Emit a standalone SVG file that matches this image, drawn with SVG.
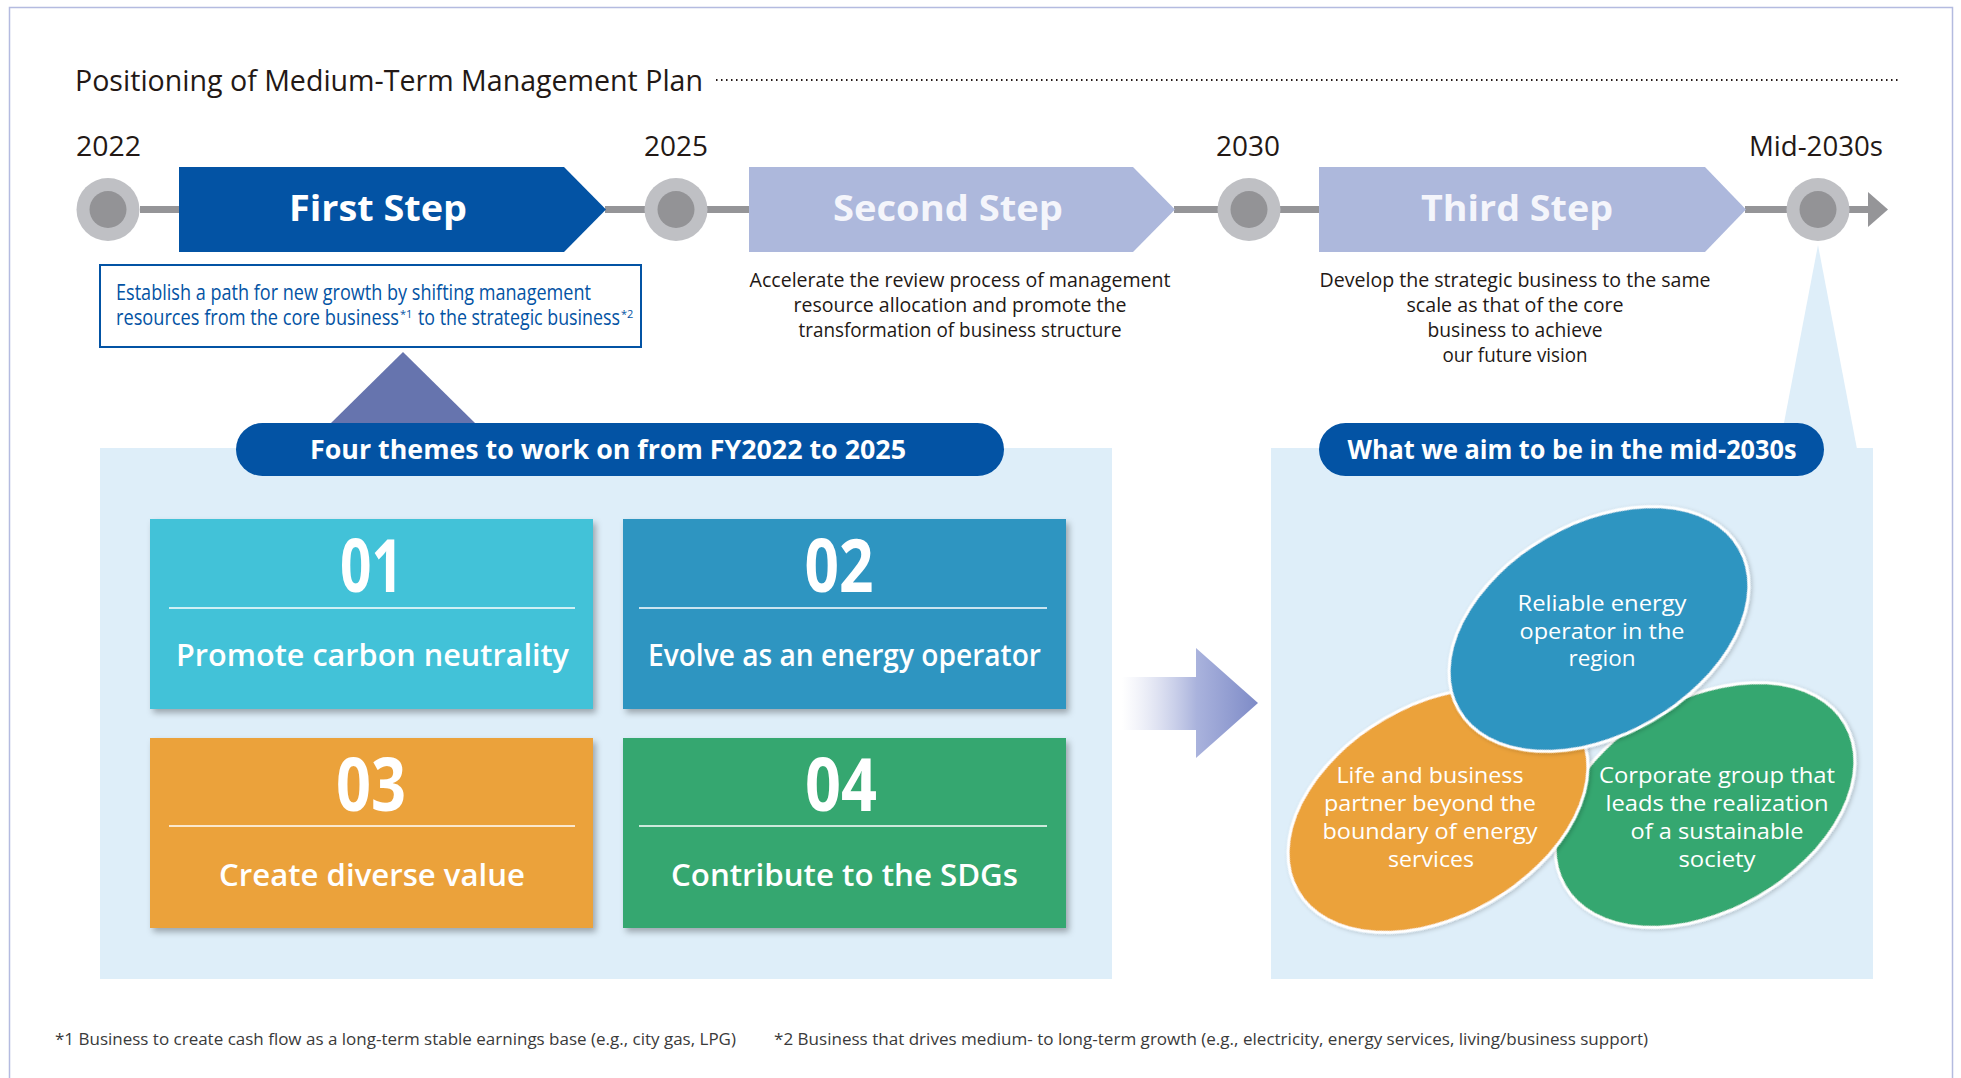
<svg xmlns="http://www.w3.org/2000/svg" width="1961" height="1078" viewBox="0 0 1961 1078">
<style>
text{font-family:"Open Sans","Noto Sans","Liberation Sans",sans-serif}
.dark{fill:#231815}
.yr{font-size:27px;fill:#231815}
.step{font-size:35px;font-weight:700;text-anchor:middle}
.desc{font-size:20px;fill:#231815;text-anchor:middle}
.bl{font-size:21px;fill:#0353a4}
.sup{font-size:11px;fill:#0353a4}
.pilltxt{font-size:27px;font-weight:700;fill:#fff;text-anchor:middle}
.num{font-size:74px;font-weight:700;fill:#fff;text-anchor:middle}
.lbl{font-size:30px;font-weight:600;fill:#fff;text-anchor:middle}
.ell{font-size:22px;fill:#fff;text-anchor:middle}
.foot{font-size:15.5px;fill:#3a3a3a}
.bar{fill:#959598}
.outer{fill:#bfc0c4}
.inner{fill:#939396}
.panel{fill:#deeef9}
.pill{fill:#0353a4}
.div{stroke:#fff;stroke-width:1.6}
.ellshape{stroke:#fff;stroke-width:3}
</style>
<defs>
<filter id="sh" x="-10%" y="-10%" width="125%" height="130%">
<feDropShadow dx="3" dy="4" stdDeviation="3" flood-color="#000" flood-opacity="0.3"/>
</filter>
<filter id="esh" x="-10%" y="-10%" width="125%" height="130%">
<feDropShadow dx="1" dy="2" stdDeviation="2" flood-color="#000" flood-opacity="0.2"/>
</filter>
<linearGradient id="shaft" x1="0" y1="0" x2="1" y2="0">
<stop offset="0" stop-color="#ffffff" stop-opacity="0.6"/>
<stop offset="1" stop-color="#a9b2dc"/>
</linearGradient>
<linearGradient id="head" gradientUnits="userSpaceOnUse" x1="1196" y1="0" x2="1258" y2="0">
<stop offset="0" stop-color="#aab3dd"/>
<stop offset="1" stop-color="#7e8bc7"/>
</linearGradient>
</defs>

<rect x="9.5" y="7.5" width="1943" height="1090" fill="#fff" stroke="#b4bbe0" stroke-width="1.5"/>

<g id="title">
<text x="75" y="91" font-size="29" class="dark" textLength="628" lengthAdjust="spacingAndGlyphs">Positioning of Medium-Term Management Plan</text>
<line x1="716" y1="80" x2="1900" y2="80" stroke="#231815" stroke-width="2" stroke-dasharray="1.5 3.5"/>
</g>

<g id="years">
<text x="76" y="156" class="yr" textLength="65" lengthAdjust="spacingAndGlyphs">2022</text>
<text x="644" y="156" class="yr" textLength="64" lengthAdjust="spacingAndGlyphs">2025</text>
<text x="1216" y="156" class="yr" textLength="64" lengthAdjust="spacingAndGlyphs">2030</text>
<text x="1749" y="156" class="yr" textLength="134" lengthAdjust="spacingAndGlyphs">Mid-2030s</text>
</g>

<g id="callouts">
<polygon points="1818,245 1779,449 1857,449" fill="#deeef9"/>
<polygon points="403,352 330,424 476,424" fill="#6674ae"/>
</g>

<g id="connectors">
<rect class="bar" x="140" y="206" width="40" height="7"/>
<rect class="bar" x="605" y="206" width="42" height="7"/>
<rect class="bar" x="706" y="206" width="44" height="7"/>
<rect class="bar" x="1174" y="206" width="45" height="7"/>
<rect class="bar" x="1279" y="206" width="41" height="7"/>
<rect class="bar" x="1745" y="206" width="43" height="7"/>
<rect class="bar" x="1848" y="206" width="21" height="7"/>
<polygon class="bar" points="1868,192 1888,209.5 1868,227"/>
<g id="big-arrow">
<rect x="1122" y="677" width="75" height="53" fill="url(#shaft)"/>
<polygon points="1196,648 1258,703 1196,758" fill="url(#head)"/>
</g>
</g>

<g id="milestone-2022"><circle class="outer" cx="108" cy="209.5" r="31.5"/><circle class="inner" cx="108" cy="209.5" r="18.5"/></g>
<g id="milestone-2025"><circle class="outer" cx="676" cy="209.5" r="31.5"/><circle class="inner" cx="676" cy="209.5" r="18.5"/></g>
<g id="milestone-2030"><circle class="outer" cx="1249" cy="209.5" r="31.5"/><circle class="inner" cx="1249" cy="209.5" r="18.5"/></g>
<g id="milestone-mid2030s"><circle class="outer" cx="1818" cy="209.5" r="31.5"/><circle class="inner" cx="1818" cy="209.5" r="18.5"/></g>

<g id="first-step">
<polygon points="179,167 564,167 606,209.5 564,252 179,252" fill="#0353a4"/>
<text x="378" y="221" class="step" fill="#fff" textLength="178" lengthAdjust="spacingAndGlyphs">First Step</text>
</g>
<g id="second-step">
<polygon points="749,167 1133,167 1175,209.5 1133,252 749,252" fill="#adb8dc"/>
<text x="948" y="221" class="step" fill="#f4f5fb" textLength="230" lengthAdjust="spacingAndGlyphs">Second Step</text>
</g>
<g id="third-step">
<polygon points="1319,167 1705,167 1746,209.5 1705,252 1319,252" fill="#adb8dc"/>
<text x="1517" y="221" class="step" fill="#f4f5fb" textLength="192" lengthAdjust="spacingAndGlyphs">Third Step</text>
</g>

<g id="first-desc">
<rect x="100" y="265" width="541" height="82" fill="#fff" stroke="#0353a4" stroke-width="2"/>
<text x="116" y="300" class="bl" textLength="475" lengthAdjust="spacingAndGlyphs">Establish a path for new growth by shifting management</text>
<text x="116" y="325" class="bl" textLength="283" lengthAdjust="spacingAndGlyphs">resources from the core business</text>
<text x="400" y="318" class="sup">*1</text>
<text x="418" y="325" class="bl" textLength="202" lengthAdjust="spacingAndGlyphs">to the strategic business</text>
<text x="621" y="318" class="sup">*2</text>
</g>

<g id="second-desc">
<text x="960" y="287" class="desc" textLength="421" lengthAdjust="spacingAndGlyphs">Accelerate the review process of management</text>
<text x="960" y="312" class="desc" textLength="333" lengthAdjust="spacingAndGlyphs">resource allocation and promote the</text>
<text x="960" y="337" class="desc" textLength="323" lengthAdjust="spacingAndGlyphs">transformation of business structure</text>
</g>

<g id="third-desc">
<text x="1515" y="287" class="desc" textLength="391" lengthAdjust="spacingAndGlyphs">Develop the strategic business to the same</text>
<text x="1515" y="312" class="desc" textLength="217" lengthAdjust="spacingAndGlyphs">scale as that of the core</text>
<text x="1515" y="337" class="desc" textLength="175" lengthAdjust="spacingAndGlyphs">business to achieve</text>
<text x="1515" y="362" class="desc" textLength="145" lengthAdjust="spacingAndGlyphs">our future vision</text>
</g>

<g id="themes-panel">
<rect class="panel" x="100" y="448" width="1012" height="531"/>
<rect class="pill" x="236" y="423" width="768" height="53" rx="26.5"/>
<text x="608" y="459" class="pilltxt" textLength="596" lengthAdjust="spacingAndGlyphs">Four themes to work on from FY2022 to 2025</text>
</g>

<g id="theme-01">
<rect x="150" y="519" width="443" height="190" fill="#42c2d8" filter="url(#sh)"/>
<text x="371.5" y="592" class="num" textLength="63" lengthAdjust="spacingAndGlyphs">01</text>
<line class="div" x1="169" y1="608" x2="575" y2="608"/>
<text x="372.5" y="666" class="lbl" textLength="393" lengthAdjust="spacingAndGlyphs">Promote carbon neutrality</text>
</g>
<g id="theme-02">
<rect x="623" y="519" width="443" height="190" fill="#2e95c1" filter="url(#sh)"/>
<text x="839" y="592" class="num" textLength="69" lengthAdjust="spacingAndGlyphs">02</text>
<line class="div" x1="639" y1="608" x2="1047" y2="608"/>
<text x="844.5" y="666" class="lbl" textLength="393" lengthAdjust="spacingAndGlyphs">Evolve as an energy operator</text>
</g>
<g id="theme-03">
<rect x="150" y="738" width="443" height="190" fill="#eba23a" filter="url(#sh)"/>
<text x="371" y="811" class="num" textLength="70" lengthAdjust="spacingAndGlyphs">03</text>
<line class="div" x1="169" y1="826" x2="575" y2="826"/>
<text x="372" y="886" class="lbl" textLength="306" lengthAdjust="spacingAndGlyphs">Create diverse value</text>
</g>
<g id="theme-04">
<rect x="623" y="738" width="443" height="190" fill="#35a76f" filter="url(#sh)"/>
<text x="841" y="811" class="num" textLength="72" lengthAdjust="spacingAndGlyphs">04</text>
<line class="div" x1="639" y1="826" x2="1047" y2="826"/>
<text x="844.5" y="886" class="lbl" textLength="347" lengthAdjust="spacingAndGlyphs">Contribute to the SDGs</text>
</g>

<g id="vision-panel">
<rect class="panel" x="1271" y="448" width="602" height="531"/>
<rect class="pill" x="1319" y="423" width="505" height="53" rx="26.5"/>
<text x="1572" y="459" class="pilltxt" textLength="449" lengthAdjust="spacingAndGlyphs">What we aim to be in the mid-2030s</text>
</g>

<g id="vision-green">
<ellipse class="ellshape" cx="1705" cy="805" rx="162" ry="106" transform="rotate(-30 1705 805)" fill="#35a76f" filter="url(#esh)"/>
<text class="ell" x="1717" y="783" textLength="236" lengthAdjust="spacingAndGlyphs">Corporate group that</text>
<text class="ell" x="1717" y="811" textLength="223" lengthAdjust="spacingAndGlyphs">leads the realization</text>
<text class="ell" x="1717" y="839" textLength="173" lengthAdjust="spacingAndGlyphs">of a sustainable</text>
<text class="ell" x="1717" y="867" textLength="77" lengthAdjust="spacingAndGlyphs">society</text>
</g>
<g id="vision-orange">
<ellipse class="ellshape" cx="1438" cy="810" rx="162" ry="106" transform="rotate(-30 1438 810)" fill="#eba23a" filter="url(#esh)"/>
<text class="ell" x="1430" y="783" textLength="187" lengthAdjust="spacingAndGlyphs">Life and business</text>
<text class="ell" x="1430" y="811" textLength="212" lengthAdjust="spacingAndGlyphs">partner beyond the</text>
<text class="ell" x="1430" y="839" textLength="215" lengthAdjust="spacingAndGlyphs">boundary of energy</text>
<text class="ell" x="1431" y="867" textLength="86" lengthAdjust="spacingAndGlyphs">services</text>
</g>
<g id="vision-blue">
<ellipse class="ellshape" cx="1599" cy="629" rx="162" ry="106" transform="rotate(-30 1599 629)" fill="#2e95c1" filter="url(#esh)"/>
<text class="ell" x="1602" y="611" textLength="169" lengthAdjust="spacingAndGlyphs">Reliable energy</text>
<text class="ell" x="1602" y="639" textLength="165" lengthAdjust="spacingAndGlyphs">operator in the</text>
<text class="ell" x="1602" y="666" textLength="67" lengthAdjust="spacingAndGlyphs">region</text>
</g>

<g id="footnotes">
<text x="55" y="1045" class="foot" textLength="681" lengthAdjust="spacingAndGlyphs">*1 Business to create cash flow as a long-term stable earnings base (e.g., city gas, LPG)</text>
<text x="774" y="1045" class="foot" textLength="874" lengthAdjust="spacingAndGlyphs">*2 Business that drives medium- to long-term growth (e.g., electricity, energy services, living/business support)</text>
</g>
</svg>
